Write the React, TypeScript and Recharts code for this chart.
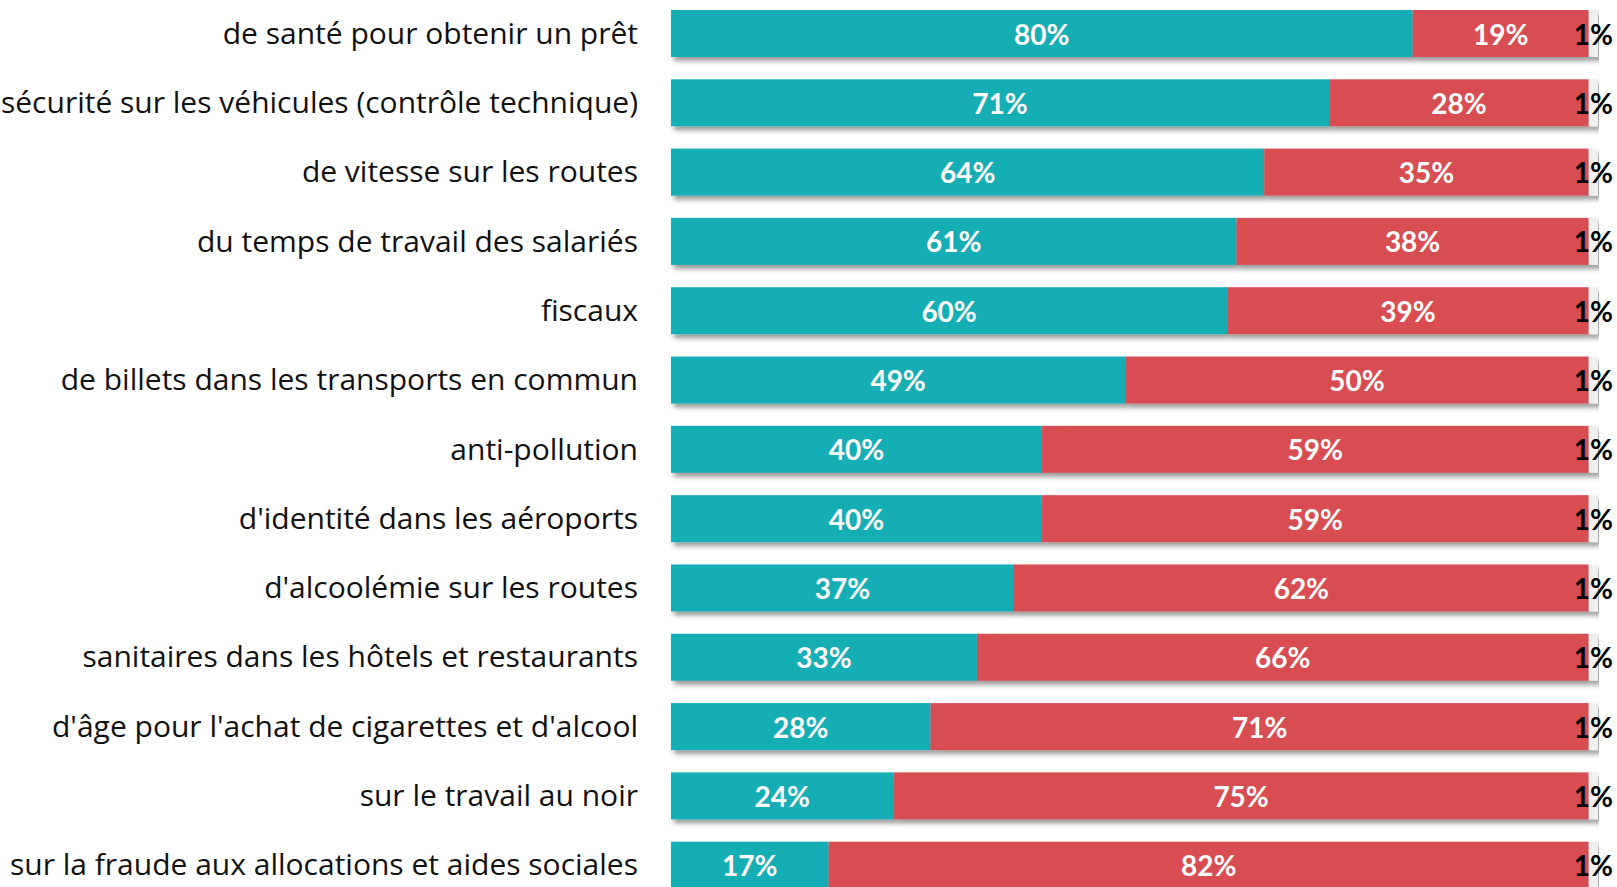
import { Bar, BarChart, LabelList, XAxis, YAxis } from "recharts"

// Contrôles – part des répondants
const categories = [
  "de santé pour obtenir un prêt",
  "sécurité sur les véhicules (contrôle technique)",
  "de vitesse sur les routes",
  "du temps de travail des salariés",
  "fiscaux",
  "de billets dans les transports en commun",
  "anti-pollution",
  "d'identité dans les aéroports",
  "d'alcoolémie sur les routes",
  "sanitaires dans les hôtels et restaurants",
  "d'âge pour l'achat de cigarettes et d'alcool",
  "sur le travail au noir",
  "sur la fraude aux allocations et aides sociales",
]
const premier = [80, 71, 64, 61, 60, 49, 40, 40, 37, 33, 28, 24, 17]
const second = [19, 28, 35, 38, 39, 50, 59, 59, 62, 66, 71, 75, 82]
const nsp = [1, 1, 1, 1, 1, 1, 1, 1, 1, 1, 1, 1, 1]

const data = categories.map((name, i) => ({
  name,
  premier: premier[i],
  second: second[i],
  nsp: nsp[i],
}))

const TEAL = "#14AEB5"
const RED = "#D84E51"
const GREY = "#F0F0F0"
const LABEL_FONT = "'Open Sans', sans-serif"
const VALUE_FONT = "Lato, sans-serif"

const ShadowRect = (props: any) => {
  const { x, y, width, height, fill } = props
  if (!width || width <= 0) return null
  return <rect x={x} y={y} width={width} height={height} fill={fill} filter="url(#barShadow)" />
}

const CategoryTick = (props: any) => {
  const { y, payload } = props
  return (
    <text x={638} y={y + 10} textAnchor="end" fontSize={30} fill="#111" fontFamily={LABEL_FONT}>
      {payload.value}
    </text>
  )
}

const valueLabel = (color: string) => (p: any) => {
  const { x, y, width, height, value } = p
  return (
    <text
      x={Number(x) + Number(width) / 2}
      y={Number(y) + Number(height) / 2 + 11}
      textAnchor="middle"
      fill={color}
      fontSize={28}
      fontWeight="bold"
      fontFamily={VALUE_FONT}
    >
      {`${value}%`}
    </text>
  )
}

export default function App() {
  return (
    <div style={{ position: "absolute", left: 0, top: 0, width: 1617, height: 887, overflow: "hidden", background: "#fff" }}>
      <div style={{ position: "absolute", left: 0, top: -1 }}>
        <BarChart
          width={1617}
          height={901}
          data={data}
          layout="vertical"
          margin={{ top: 0, right: 19, bottom: 0, left: 0 }}
          barSize={47}
        >
          <defs>
            <filter id="barShadow" x="-5%" y="-30%" width="115%" height="180%">
              <feDropShadow dx={3} dy={4} stdDeviation={2.5} floodColor="#000" floodOpacity={0.4} />
            </filter>
          </defs>
          <XAxis type="number" domain={[0, 100]} hide />
          <YAxis
            type="category"
            dataKey="name"
            width={671}
            axisLine={false}
            tickLine={false}
            tick={<CategoryTick />}
            interval={0}
          />
          <Bar dataKey="premier" stackId="a" fill={TEAL} shape={<ShadowRect />} isAnimationActive={false}>
            <LabelList dataKey="premier" content={valueLabel("#fff")} />
          </Bar>
          <Bar dataKey="second" stackId="a" fill={RED} shape={<ShadowRect />} isAnimationActive={false}>
            <LabelList dataKey="second" content={valueLabel("#fff")} />
          </Bar>
          <Bar dataKey="nsp" stackId="a" fill={GREY} shape={<ShadowRect />} isAnimationActive={false}>
            <LabelList dataKey="nsp" content={valueLabel("#000")} />
          </Bar>
        </BarChart>
      </div>
    </div>
  )
}
